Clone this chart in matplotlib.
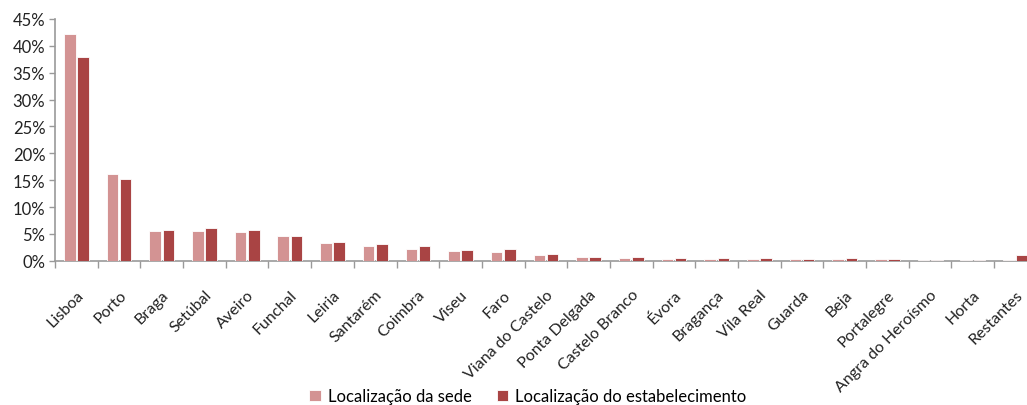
import numpy as np
import matplotlib
matplotlib.use('Agg')
from matplotlib import pyplot as plt

cidades = ['Lisboa', 'Porto', 'Braga', 'Setúbal', 'Aveiro', 'Funchal', 'Leiria',
           'Santarém', 'Coimbra', 'Viseu', 'Faro', 'Viana do Castelo', 'Ponta Delgada',
           'Castelo Branco', 'Évora', 'Bragança', 'Vila Real', 'Guarda', 'Beja',
           'Portalegre', 'Angra do Heroísmo', 'Horta', 'Restantes']
sede = [42.2, 16.2, 5.6, 5.6, 5.3, 4.6, 3.3, 2.8, 2.3, 1.8, 1.6, 1.1, 0.8,
        0.55, 0.3, 0.3, 0.3, 0.3, 0.3, 0.3, 0.1, 0.1, 0.1]
estab = [38.0, 15.2, 5.8, 6.1, 5.8, 4.6, 3.6, 3.1, 2.8, 2.0, 2.3, 1.3, 0.8,
         0.8, 0.5, 0.5, 0.5, 0.3, 0.5, 0.3, 0.1, 0.1, 1.1]

plt.rcParams['font.family'] = ['Lato', 'DejaVu Sans']

fig = plt.figure(figsize=(10.27, 4.06), dpi=100)
ax = fig.add_axes([0.0536, 0.355, 0.956, 0.596])

x = np.arange(len(cidades))
w = 0.27
ax.bar(x - w / 2 - 0.02, sede, w, color='#D39393', edgecolor='white', linewidth=0.6,
       label='Localização da sede', zorder=3)
ax.bar(x + w / 2 + 0.02, estab, w, color='#A94444', edgecolor='white', linewidth=0.6,
       label='Localização do estabelecimento', zorder=3)

ax.set_xlim(-0.5, len(cidades) - 0.5)
ax.set_ylim(0, 45)
ax.set_yticks(np.arange(0, 46, 5))
ax.set_yticklabels([f'{v}%' for v in range(0, 46, 5)], fontsize=12, color='#222222')

ax.set_xticks(x)
ax.set_xticklabels(cidades, rotation=45, ha='right', rotation_mode='anchor',
                   fontsize=11.5, color='#222222')
ax.tick_params(axis='x', length=0, pad=19)
ax.set_xticks(np.arange(-0.5, len(cidades), 1), minor=True)
ax.tick_params(axis='x', which='minor', length=5, color='#999999', width=1)
ax.tick_params(axis='y', length=4, color='#999999', width=1, pad=3)

for s in ['top', 'right']:
    ax.spines[s].set_visible(False)
for s in ['left', 'bottom']:
    ax.spines[s].set_color('#999999')
    ax.spines[s].set_linewidth(1.2)

fig.legend(loc='lower center', bbox_to_anchor=(0.514, -0.035), ncol=2, frameon=False,
           fontsize=12, handlelength=0.7, handleheight=0.7, handletextpad=0.4,
           columnspacing=1.5)

plt.savefig('out.png', dpi=100)
